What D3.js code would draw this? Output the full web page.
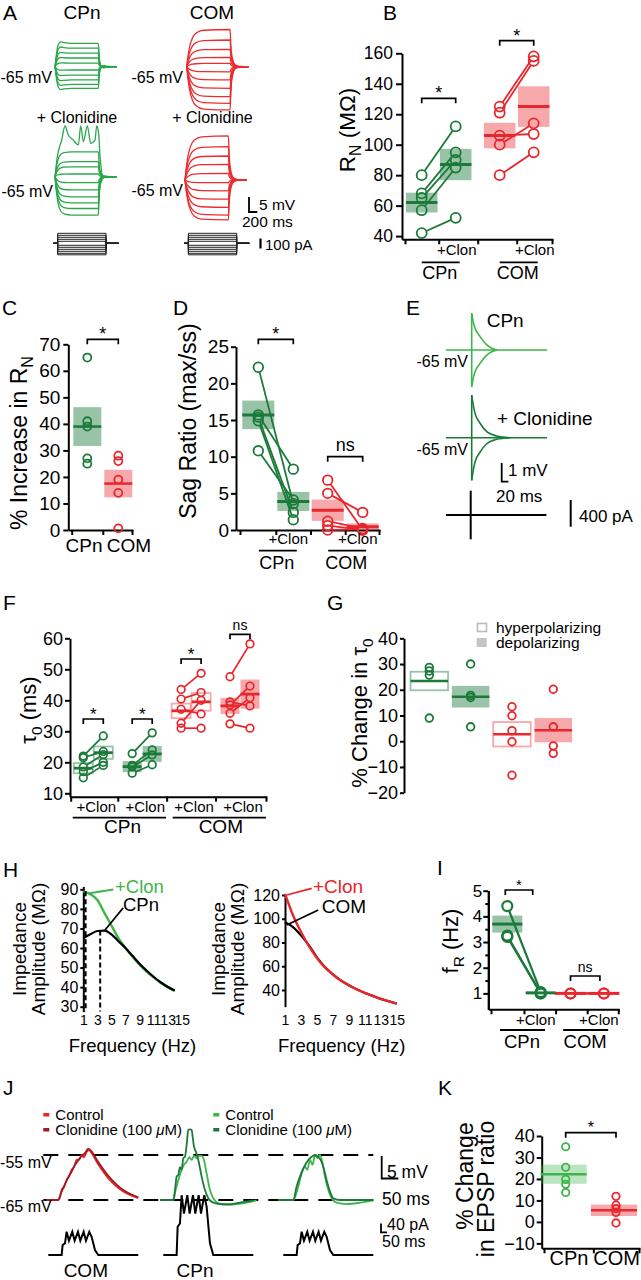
<!DOCTYPE html>
<html><head><meta charset="utf-8">
<script src="https://cdn.jsdelivr.net/npm/d3@7"></script>
<style>html,body{margin:0;padding:0;background:#fff;} svg{display:block;}</style>
</head><body>
<script>
// ================= DATA =================
// A: step responses (mV offsets from -65 mV), normalized step shapes, current steps (pA)
const A_stepT = [0, 40, 80, 140, 220, 400, 1040, 1060, 1100, 1160, 1250, 1480];
const A_shapeCPnCtrl = [0, .6, .95, 1.06, 1.03, 1, 1, .4, .05, -.05, -.01, 0];
const A_shapeCPnClon = [0, .45, .72, .9, .97, 1, 1, .5, .15, .03, .01, 0];
const A_shapeCOM = [0, .35, .58, .78, .9, .98, 1, .55, .2, .05, .01, 0];
const A_cpnCtrl = [7.8, 6.2, 4.5, 2.9, 1.2, -1.1, -2.8, -4.4, -5.9, -7.2];
const A_cpnClon = [8.3, 5, 3.3, 0.9, -2, -4.4, -6.7, -8.7, -10.6, -12.8];
const A_comCtrl = [12.4, 8.9, 5.8, 3.1, 1.1, -1.7, -4.4, -7.2, -10, -12.2, -14.4];
const A_comClon = [14.7, 11.1, 8, 5.2, 2.2, -0.9, -3.6, -6.4, -9.1, -11.7, -13.3];
const A_spikeT = [0, 56, 160, 240, 320, 440, 560, 616, 680, 776, 856, 960, 1000, 1048, 1080, 1160, 1480];
const A_spikeV = [0, 6.7, 12.2, 16.9, 13.9, 12.2, 10.6, 16.9, 11.7, 16.9, 11.1, 12.2, 16.9, 14.4, 6.7, 0, 0];
const A_stim = [100, 80, 60, 40, 20, -20, -40, -60, -80, -100, -115];

// B: input resistance (MOhm)
const B_groups = ["CPn", "COM"], B_conds = ["ctrl", "clon"];
const B_ticks = [40, 60, 80, 100, 120, 140, 160];
const B_cpn_ctrl = [80, 68, 65, 57, 42], B_cpn_clon = [112, 95, 90, 85, 52];
const B_com_ctrl = [125, 121, 106, 100, 80], B_com_clon = [158, 155, 107, 114, 95];
const B_mean = [62, 87, 106, 125], B_sem = [6.5, 10.3, 8.4, 13.3];

// C: % increase in RN
const C_cats = ["CPn", "COM"];
const C_ticks = [0, 10, 20, 30, 40, 50, 60, 70];
const C_cpn = [65, 41, 39, 27, 25], C_com = [28, 26, 19, 14, 0.6];
const C_mean = [39, 17.5], C_sem = [7.3, 5.2];

// D: sag ratio
const D_ticks = [0, 5, 10, 15, 20, 25];
const D_cpn_ctrl = [22.2, 15.7, 15.4, 14.9, 10.8], D_cpn_clon = [3.6, 8.3, 2.4, 1.4, 4.1];
const D_com_ctrl = [6.8, 5.0, 1.2, 0.6, 0], D_com_clon = [0, 2.4, 0.2, 0, 0.1];
const D_mean = [15.7, 3.9, 2.7, 0.45], D_sem = [1.95, 1.3, 1.45, 0.45];

// E: responses to brief current pulse (mV vs ms)
const E_cpnT = [0, 5, 10, 25, 45, 60, 75];
const E_cpnV = [2.02, 1.5, 1.19, 0.73, 0.28, 0.1, 0];
const E_clonT = [0, 5, 10, 25, 45, 75, 115];
const E_clonV = [2.33, 1.75, 1.33, 0.79, 0.33, 0.09, 0];
const E_pulse = [364, -364];

// F: tau0 (ms)
const F_groups = ["CPn-h", "CPn-d", "COM-h", "COM-d"];
const F_ticks = [10, 20, 30, 40, 50, 60];
const F_cpnH_ctrl = [22, 21.5, 18.5, 17, 15], F_cpnH_clon = [28.5, 23.5, 22.5, 20, 19];
const F_cpnD_ctrl = [22.8, 19, 18.5, 16.5], F_cpnD_clon = [29.5, 24, 22.4, 19.2];
const F_comH_ctrl = [43.5, 40.4, 37.1, 32.6, 31], F_comH_clon = [48.7, 42.5, 35.6, 40, 31];
const F_comD_ctrl = [47.6, 39.5, 38.5, 35.8, 32.4], F_comD_clon = [58.2, 38.2, 44.6, 40.8, 31];
const F_mean = [18.1, 23.1, 18.6, 22.7, 36.6, 39.5, 38.2, 42];
const F_sem = [1.65, 2.0, 1.8, 2.55, 2.35, 2.85, 2.6, 4.7];

// G: % change in tau0
const G_cats = ["CPn-h", "CPn-d", "COM-h", "COM-d"];
const G_ticks = [-20, -10, 0, 10, 20, 30, 40];
const G_cpnH = [28.7, 27.3, 25.7, 9], G_cpnD = [30, 17.8, 17, 5.6];
const G_comH = [13.4, 9.9, 4.1, -0.2, -13.2], G_comD = [20.2, 5.6, -1.8, -4.7];
const G_mean = [23.4, 17.3, 2.7, 4.3], G_sem = [3.6, 4.2, 4.75, 4.7];

// H: impedance amplitude (MOhm) vs frequency (Hz)
const H_freqL = [1, 2, 3, 4, 5, 6, 7, 8, 9, 10, 11, 12, 13, 14];
const H_cpnClon = [89, 87.5, 84.5, 78, 71.5, 65, 60, 55.5, 51.5, 48, 45, 42.3, 40, 38];
const H_cpnCtrl = [65, 67, 68.7, 68.9, 67, 63.5, 60, 56, 52, 48.5, 45.3, 42.5, 40.2, 38.3];
const H_freqR = [1, 2, 3, 4, 5, 6, 7, 8, 9, 10, 11, 12, 13, 14, 15];
const H_comClon = [121, 103, 89, 77, 67, 59, 53, 48, 44, 40.5, 37.5, 35, 32.5, 30.5, 28.5];
const H_comCtrl = [97, 93, 86, 77.5, 67.5, 59.3, 53.2, 48, 44, 40.5, 37.5, 35, 32.5, 30.5, 28.5];
const H_resCPn = [3.4, 1];
const H_ticksL = [30, 40, 50, 60, 70, 80, 90], H_ticksR = [40, 60, 80, 100, 120];
const H_xticks = [1, 3, 5, 7, 9, 11, 13, 15];

// I: resonance frequency (Hz)
const I_ticks = [1, 2, 3, 4, 5], I_minor = [1.5, 2.5, 3.5, 4.5];
const I_cpn_ctrl = [4.4, 3.25, 3.2], I_cpn_clon = [1.05, 1, 1];
const I_com_ctrl = [1, 1], I_com_clon = [1, 1];
const I_mean = [3.7, 1.02, 1, 1], I_sem = [0.33, 0.03, 0, 0];

// J: EPSP traces (mV above -65 vs ms) and current injections (pA)
const J_comCtrlT = [-35, 0, 5, 10, 18, 25, 32, 40, 47, 55, 63, 70, 77, 85, 92, 100, 115, 135, 155, 175, 195, 215, 240];
const J_comCtrl = [0, 0, 0.7, 2.2, 3, 4.4, 5.2, 6.7, 7.3, 8.9, 9, 10, 9.5, 10.7, 11.1, 10.4, 8.5, 6.3, 4.4, 3, 1.9, 1.1, 0.4];
const J_comClonT = [-35, 0, 8, 18, 28, 40, 50, 60, 70, 80, 90, 100, 115, 135, 155, 175, 195, 215, 240];
const J_comClon = [0, 0, 1.5, 3.2, 4.8, 6.3, 7.8, 8.8, 9.8, 10.4, 11.4, 10.8, 9, 6.8, 4.9, 3.4, 2.2, 1.4, 0.6];
const J_cpnClonT = [-40, 0, 5, 10, 15, 20, 25, 30, 35, 40, 45, 50, 55, 58, 62, 68, 75, 85, 95, 105, 120, 140, 170, 200, 240];
const J_cpnClon = [0, 0, 2.2, 5.2, 5.6, 7.3, 6.7, 9.3, 9.6, 12.2, 15.6, 15.7, 15.6, 14.1, 11.9, 10.7, 8.9, 5.2, 2.2, 0.4, -0.6, -0.9, -0.9, -0.6, -0.1];
const J_cpnCtrlT = [-40, 0, 7, 15, 25, 32, 40, 48, 55, 62, 70, 78, 85, 92, 100, 110, 120, 135, 160, 190, 220, 250];
const J_cpnCtrl = [0, 0, 2.2, 4.4, 6.7, 7.8, 8.5, 9.5, 8.9, 9.8, 9.3, 9.8, 9.8, 8.9, 5.9, 2.2, 0.4, -0.7, -1.1, -0.9, -0.6, -0.1];
const J_cpn2ClonT = [-45, 0, 10, 20, 30, 38, 45, 55, 65, 75, 82, 90, 100, 110, 120, 140, 240];
const J_cpn2Clon = [0, 0, 3, 5.2, 7, 8.1, 8.9, 9.6, 10, 9.6, 8.9, 7.4, 4.4, 1.9, 0.4, 0, 0];
const J_cpn2CtrlT = [-45, 0, 15, 25, 35, 42, 50, 58, 65, 72, 80, 88, 95, 105, 115, 130, 160, 200, 240];
const J_cpn2Ctrl = [0, 0, 3, 5.9, 7.4, 6.7, 8.9, 7.8, 10, 9.3, 10, 8.1, 5.2, 2.2, 0.4, -0.6, -0.9, -0.6, -0.1];
const J_stimT = [-30, 10, 13, 20, 25, 32, 42, 49, 59, 66, 76, 83, 93, 100, 110, 120, 240];
const J_stimSmall = [0, 0, 48, 56, 112, 69, 112, 69, 112, 69, 112, 69, 112, 88, 24, 0, 0];
const J_stimLarge = [0, 0, 136, 152, 288, 200, 288, 200, 288, 200, 288, 200, 288, 232, 56, 0, 0];

// K: % change in EPSP ratio
const K_cats = ["CPn", "COM"];
const K_ticks = [-10, 0, 10, 20, 30, 40];
const K_cpn = [35, 25.4, 19.8, 17.5, 13.7], K_com = [11.9, 7.8, 6.2, 4.4, -0.5];
const K_mean = [22.2, 5.4], K_sem = [4.45, 2.65];

// ================= DRAWING =================
const W = 641, H = 1280;
const FONT = "'Liberation Sans', Arial, Helvetica, sans-serif";
const DG = "#1b7a3a", LG = "#3db54a", RD = "#e8262c", DR = "#9e1b20", AG = "#29a84a", AR = "#ee2c2f";
const svg = d3.select("body").append("svg").attr("width", W).attr("height", H);
svg.append("rect").attr("width", W).attr("height", H).attr("fill", "#fff");

function rich(g, x, y, parts, size, o = {}) {
  const t = g.append("text").attr("x", x).attr("y", y).attr("font-family", FONT)
    .attr("font-size", size).attr("fill", o.fill || "#000").attr("text-anchor", o.anchor || "start");
  if (o.rot !== undefined) t.attr("transform", `rotate(${o.rot},${x},${y})`);
  let shift = 0;
  (typeof parts === "string" ? [{ t: parts }] : parts).forEach(p => {
    const ts = t.append("tspan").text(p.t);
    const target = p.sub ? size * 0.28 : 0;
    if (target !== shift) { ts.attr("dy", target - shift); shift = target; }
    if (p.sub) ts.attr("font-size", size * 0.7);
    if (p.it) ts.attr("font-style", "italic");
  });
  return t;
}
function yAxis(g, x, scale, ticks, fs, o = {}) {
  const ax = d3.axisLeft(scale).tickValues(ticks).tickSize(o.ts || 5).tickPadding(o.pad === undefined ? 2 : o.pad)
    .tickSizeOuter(0).tickFormat(d3.format("d"));
  const a = g.append("g").attr("transform", `translate(${x},0)`).call(ax);
  a.select(".domain").attr("stroke", "#000").attr("stroke-width", o.sw || 2);
  a.selectAll(".tick line").attr("stroke", "#000").attr("stroke-width", o.sw || 2);
  a.selectAll(".tick text").attr("font-size", fs).attr("font-family", FONT).attr("fill", "#000");
  if (o.noLabels) a.selectAll(".tick text").remove();
  if (o.noDomain) a.select(".domain").remove();
  return a;
}
function xTicks(g, y, x0, x1, ticks, o = {}) {
  const ax = d3.axisBottom(d3.scaleIdentity().domain([x0, x1])).tickValues(ticks).tickSize(o.ts || 5).tickFormat("").tickSizeOuter(0);
  const a = g.append("g").attr("transform", `translate(0,${y})`).call(ax);
  a.select(".domain").attr("stroke", "#000").attr("stroke-width", 2);
  a.selectAll(".tick line").attr("stroke", "#000").attr("stroke-width", 2);
}
function hline(g, x1, x2, y, sw = 1.8, col = "#000") {
  g.append("line").attr("x1", x1).attr("x2", x2).attr("y1", y).attr("y2", y).attr("stroke", col).attr("stroke-width", sw);
}
function line(g, x1, y1, x2, y2, sw = 1.8, col = "#000", dash) {
  const l = g.append("line").attr("x1", x1).attr("y1", y1).attr("x2", x2).attr("y2", y2).attr("stroke", col).attr("stroke-width", sw);
  if (dash) l.attr("stroke-dasharray", dash);
  return l;
}
function box(g, cx, w, y1, y2, color, filled, op) {
  const r = g.append("rect").attr("x", cx - w / 2).attr("y", Math.min(y1, y2)).attr("width", w).attr("height", Math.max(0.5, Math.abs(y2 - y1)));
  if (filled) r.attr("fill", color).attr("fill-opacity", op).attr("stroke", "none");
  else r.attr("fill", "#fff").attr("stroke", color).attr("stroke-opacity", op).attr("stroke-width", 1.8);
}
function circ(g, x, y, r, color, sw) {
  g.append("circle").attr("cx", x).attr("cy", y).attr("r", r).attr("fill", "none").attr("stroke", color).attr("stroke-width", sw);
}
function seg(g, x1, y1, x2, y2, r, color, w) {
  const dx = x2 - x1, dy = y2 - y1, L = Math.hypot(dx, dy);
  if (L < 2 * r) return;
  const ux = dx / L, uy = dy / L;
  line(g, x1 + ux * r, y1 + uy * r, x2 - ux * r, y2 - uy * r, w, color);
}
function bracket(g, x1, x2, y, label, fs, dyTxt = 0, leg = 5) {
  g.append("path").attr("d", `M${x1},${y + leg}V${y}H${x2}V${y + leg}`).attr("fill", "none").attr("stroke", "#000").attr("stroke-width", 1.7);
  rich(g, (x1 + x2) / 2, y + dyTxt, label, fs, { anchor: "middle" });
}
function pairGroup(g, xa, xb, y, ctrl, clon, mean, sem, color, bw, r, o = {}) {
  const filled = o.filled || [true, true];
  const op = o.op || 0.45;
  [[xa, 0], [xb, 1]].forEach(([x, i]) => box(g, x, bw, y(mean[i] - sem[i]), y(mean[i] + sem[i]), color, filled[i], op));
  ctrl.forEach((v, i) => seg(g, xa, y(v), xb, y(clon[i]), r, color, o.lw || 1.8));
  ctrl.forEach(v => circ(g, xa, y(v), r, color, o.cw || 1.8));
  clon.forEach(v => circ(g, xb, y(v), r, color, o.cw || 1.8));
  [[xa, 0], [xb, 1]].forEach(([x, i]) => hline(g, x - bw / 2, x + bw / 2, y(mean[i]), o.mw || 3, color));
}

// ---------- Panel A ----------
{
  const g = svg.append("g");
  rich(g, 3, 20, "A", 21);
  rich(g, 82, 19, "CPn", 19, { anchor: "middle" });
  rich(g, 212, 19, "COM", 19, { anchor: "middle" });
  function traces(x0, base, amps, shape, color) {
    const xs = d3.scaleLinear().domain([0, 1000]).range([x0, x0 + 41.7]);
    const ys = d3.scaleLinear().domain([0, 5]).range([base, base - 15]);
    const ln = d3.line().x(d => xs(d[0])).y(d => ys(d[1])).curve(d3.curveMonotoneX);
    amps.forEach(a => g.append("path").attr("d", ln(A_stepT.map((t, i) => [t, a * shape[i]])))
      .attr("fill", "none").attr("stroke", color).attr("stroke-width", 1.3));
    return { xs, ys };
  }
  traces(55, 66.7, A_cpnCtrl, A_shapeCPnCtrl, AG);
  const s = traces(55, 176.7, A_cpnClon, A_shapeCPnClon, AG);
  g.append("path").attr("d", d3.line().x((d, i) => s.xs(A_spikeT[i])).y(d => s.ys(d)).curve(d3.curveMonotoneX)(A_spikeV))
    .attr("fill", "none").attr("stroke", AG).attr("stroke-width", 1.3);
  traces(186.7, 66.7, A_comCtrl, A_shapeCOM, AR);
  traces(185, 180, A_comClon, A_shapeCOM, AR);
  function stim(x0, yb) {
    const xs = d3.scaleLinear().domain([0, 1000]).range([x0, x0 + 41.7]);
    const ys = d3.scaleLinear().domain([0, 100]).range([yb, yb - 10]);
    const ln = d3.line().x(d => xs(d[0])).y(d => ys(d[1]));
    A_stim.forEach(a => g.append("path").attr("d", ln([[-60, 0], [40, 0], [40, a], [1200, a], [1200, 0], [1500, 0]]))
      .attr("fill", "none").attr("stroke", "#222").attr("stroke-width", 1));
  }
  stim(56, 243.3);
  stim(186.7, 243.3);
  rich(g, 52, 82.7, "-65 mV", 16, { anchor: "end" });
  rich(g, 53, 196.7, "-65 mV", 16, { anchor: "end" });
  rich(g, 183, 82.7, "-65 mV", 16, { anchor: "end" });
  rich(g, 183, 196, "-65 mV", 16, { anchor: "end" });
  rich(g, 77, 123, "+ Clonidine", 16, { anchor: "middle" });
  rich(g, 212.5, 123, "+ Clonidine", 16, { anchor: "middle" });
  g.append("path").attr("d", "M249,197V212H257.3").attr("fill", "none").attr("stroke", "#000").attr("stroke-width", 1.8);
  rich(g, 259, 210, "5 mV", 15.5);
  rich(g, 242, 227, "200 ms", 15.5);
  line(g, 260.5, 238.5, 260.5, 248.5, 2.2);
  rich(g, 265, 250, "100 pA", 15);
}

// ---------- Panel B ----------
{
  const g = svg.append("g");
  rich(g, 383, 20, "B", 21);
  const y = d3.scaleLinear().domain([37.9, 160]).range([239.3, 53.3]);
  const xg = d3.scalePoint().domain(B_groups).range([438.7, 516.7]);
  const xc = d3.scalePoint().domain(B_conds).range([-17, 17]);
  yAxis(g, 402, y, B_ticks, 17.5, { pad: 3, ts: 6 });
  xTicks(g, 239.3, 402, 553, [405, xg("CPn"), (xg("CPn") + xg("COM")) / 2, xg("COM"), 552]);
  pairGroup(g, xg("CPn") + xc("ctrl"), xg("CPn") + xc("clon"), y, B_cpn_ctrl, B_cpn_clon, B_mean.slice(0, 2), B_sem.slice(0, 2), DG, 31.5, 5);
  pairGroup(g, xg("COM") + xc("ctrl"), xg("COM") + xc("clon"), y, B_com_ctrl, B_com_clon, B_mean.slice(2), B_sem.slice(2), RD, 31.5, 5, { op: 0.4 });
  rich(g, 355, 130, [{ t: "R" }, { t: "N", sub: true }, { t: " (MΩ)" }], 22.5, { rot: -90, anchor: "middle" });
  B_groups.forEach(gr => {
    rich(g, xg(gr) + xc("clon") + 1, 255, "+Clon", 15, { anchor: "middle" });
    hline(g, xg(gr) - 17, xg(gr) + 21, 262.3, 1.8);
    rich(g, xg(gr) + 1, 279, gr, 18, { anchor: "middle" });
  });
  bracket(g, xg("CPn") + xc("ctrl"), xg("CPn") + xc("clon"), 98.3, "*", 18, 1);
  bracket(g, xg("COM") + xc("ctrl"), xg("COM") + xc("clon"), 40.7, "*", 18, 1);
}

// ---------- Panel C ----------
{
  const g = svg.append("g");
  rich(g, 2, 315, "C", 21);
  const y = d3.scaleLinear().domain([0, 70]).range([530, 344.3]);
  const x = d3.scalePoint().domain(C_cats).range([87.3, 118.3]);
  yAxis(g, 68.3, y, C_ticks, 19, { pad: 3 });
  xTicks(g, 530, 68.3, 133, [71.7, (x("CPn") + x("COM")) / 2, 132]);
  [[C_cpn, DG, 0.45], [C_com, RD, 0.4]].forEach(([vals, col, op], i) => {
    const cx = x(C_cats[i]);
    box(g, cx, 28, y(C_mean[i] - C_sem[i]), y(C_mean[i] + C_sem[i]), col, true, op);
    vals.forEach(v => circ(g, cx, y(v), 4, col, 1.8));
    hline(g, cx - 14, cx + 14, y(C_mean[i]), 2.5, col);
  });
  rich(g, 84, 551.7, "CPn", 19, { anchor: "middle" });
  rich(g, 129, 551.7, "COM", 19, { anchor: "middle" });
  rich(g, 27, 443, [{ t: "% Increase in R" }, { t: "N", sub: true }], 23, { rot: -90, anchor: "middle" });
  bracket(g, x("CPn"), x("COM"), 339.3, "*", 18, 1);
}

// ---------- Panel D ----------
{
  const g = svg.append("g");
  rich(g, 173, 315, "D", 21);
  const y = d3.scaleLinear().domain([0, 25]).range([530, 346.7]);
  const xg = d3.scalePoint().domain(B_groups).range([275.8, 345.2]);
  const xc = d3.scalePoint().domain(B_conds).range([-17.5, 17.5]);
  yAxis(g, 236, y, D_ticks, 19, { pad: 2 });
  xTicks(g, 530, 236, 380, [240, xg("CPn"), (xg("CPn") + xg("COM")) / 2, xg("COM"), 379]);
  pairGroup(g, xg("CPn") + xc("ctrl"), xg("CPn") + xc("clon"), y, D_cpn_ctrl, D_cpn_clon, D_mean.slice(0, 2), D_sem.slice(0, 2), DG, 32, 4.8);
  pairGroup(g, xg("COM") + xc("ctrl"), xg("COM") + xc("clon"), y, D_com_ctrl, D_com_clon, D_mean.slice(2), D_sem.slice(2), RD, 32, 4.8, { op: 0.4 });
  rich(g, 196, 421, "Sag Ratio (max/ss)", 23, { rot: -90, anchor: "middle" });
  B_groups.forEach(gr => {
    rich(g, xg(gr) + xc("clon") - 5, 544.3, "+Clon", 15, { anchor: "middle" });
    hline(g, xg(gr) - 17, xg(gr) + 21, 550.7, 1.8);
    rich(g, xg(gr) + 1, 569, gr, 18, { anchor: "middle" });
  });
  bracket(g, xg("CPn") + xc("ctrl"), xg("CPn") + xc("clon"), 339.3, "*", 18, 1);
  bracket(g, xg("COM") + xc("ctrl"), xg("COM") + xc("clon"), 456.7, "ns", 18, -6);
}

// ---------- Panel E ----------
{
  const g = svg.append("g");
  rich(g, 406, 315, "E", 21);
  function resp(base, T, V, color) {
    const xs = d3.scaleLinear().domain([0, 20]).range([471.7, 478.4]);
    const ys = d3.scaleLinear().domain([0, 1]).range([base, base - 18.3]);
    const ln = d3.line().x((d, i) => xs(T[i])).y(d => ys(d)).curve(d3.curveMonotoneX);
    const st = p => p.attr("fill", "none").attr("stroke", color).attr("stroke-width", 1.6);
    st(g.append("path").attr("d", `M${xs(-77)},${base}H${xs(225)}`));
    st(g.append("path").attr("d", `M${xs(0)},${ys(V[0])}V${ys(-V[0])}`));
    st(g.append("path").attr("d", ln(V)));
    st(g.append("path").attr("d", ln(V.map(v => -v))));
  }
  resp(350, E_cpnT, E_cpnV, LG);
  resp(437.7, E_clonT, E_clonV, DG);
  {
    const xs = d3.scaleLinear().domain([0, 20]).range([470.7, 477.4]);
    const ys = d3.scaleLinear().domain([0, 400]).range([515, 488.3]);
    line(g, xs(-74), 515, xs(226), 515, 2);
    line(g, xs(0), ys(E_pulse[0]), xs(0), ys(E_pulse[1]), 2);
  }
  rich(g, 486.7, 326.7, "CPn", 19);
  rich(g, 468, 366.7, "-65 mV", 16, { anchor: "end" });
  rich(g, 468, 455, "-65 mV", 16, { anchor: "end" });
  rich(g, 497, 425, "+ Clonidine", 19);
  g.append("path").attr("d", "M501.7,463V481.7H508.4").attr("fill", "none").attr("stroke", "#000").attr("stroke-width", 1.8);
  rich(g, 508, 476, "1 mV", 17);
  rich(g, 496, 501.7, "20 ms", 17);
  line(g, 570.7, 500, 570.7, 526.7, 2);
  rich(g, 579, 521.7, "400 pA", 17);
}

// ---------- Panel F ----------
{
  const g = svg.append("g");
  rich(g, 3, 610, "F", 21);
  const y = d3.scaleLinear().domain([8.9, 60]).range([796.7, 638.3]);
  const xg = d3.scalePoint().domain(F_groups).range([93.3, 240]);
  const xc = d3.scalePoint().domain(B_conds).range([-10, 10]);
  yAxis(g, 70, y, F_ticks, 18, { pad: 2 });
  const gx = F_groups.map(f => xg(f));
  xTicks(g, 796.7, 70, 266.7, [70.7, (gx[0] + gx[1]) / 2, (gx[1] + gx[2]) / 2, (gx[2] + gx[3]) / 2, 266]);
  const sets = [[F_cpnH_ctrl, F_cpnH_clon, DG, false, 0.45], [F_cpnD_ctrl, F_cpnD_clon, DG, true, 0.45],
                [F_comH_ctrl, F_comH_clon, RD, false, 0.4], [F_comD_ctrl, F_comD_clon, RD, true, 0.4]];
  sets.forEach(([c, k, col, fill, op], i) => {
    const gr = F_groups[i];
    pairGroup(g, xg(gr) + xc("ctrl"), xg(gr) + xc("clon"), y, c, k, F_mean.slice(2 * i, 2 * i + 2), F_sem.slice(2 * i, 2 * i + 2), col, 19, 3.8,
      { filled: [fill, fill], op: op, mw: 2.8, lw: 1.7, cw: 1.7 });
    rich(g, xg(gr) + xc("clon") - 7, 811.7, "+Clon", 15, { anchor: "middle" });
  });
  hline(g, 72.7, 166, 817.7, 1.8);
  hline(g, 172.7, 266, 817.7, 1.8);
  rich(g, 122.5, 833, "CPn", 19, { anchor: "middle" });
  rich(g, 220.8, 833, "COM", 19, { anchor: "middle" });
  rich(g, 36, 710, [{ t: "τ" }, { t: "0", sub: true }, { t: " (ms)" }], 22, { rot: -90, anchor: "middle" });
  const bY = [719, 719, 659, 634.3], bL = ["*", "*", "*", "ns"];
  F_groups.forEach((gr, i) => bracket(g, xg(gr) + xc("ctrl"), xg(gr) + xc("clon"), bY[i], bL[i], bL[i] === "ns" ? 14 : 17, bL[i] === "ns" ? -4 : 1));
}

// ---------- Panel G ----------
{
  const g = svg.append("g");
  rich(g, 327, 610, "G", 21);
  const y = d3.scaleLinear().domain([-20, 40]).range([792.7, 638.3]);
  const x = d3.scalePoint().domain(G_cats).range([429.3, 553.3]);
  yAxis(g, 404, y, G_ticks, 18, { pad: 2, ts: 4 });
  const sets = [[G_cpnH, DG, false, 0.45], [G_cpnD, DG, true, 0.45], [G_comH, RD, false, 0.4], [G_comD, RD, true, 0.4]];
  sets.forEach(([vals, col, fill, op], i) => {
    const cx = x(G_cats[i]);
    box(g, cx, 37.5, y(G_mean[i] - G_sem[i]), y(G_mean[i] + G_sem[i]), col, fill, op);
    vals.forEach(v => circ(g, cx, y(v), 3.8, col, 1.8));
    hline(g, cx - 18.75, cx + 18.75, y(G_mean[i]), 2.5, col);
  });
  rich(g, 367, 713, [{ t: "% Change in τ" }, { t: "0", sub: true }], 22, { rot: -90, anchor: "middle" });
  g.append("rect").attr("x", 477.5).attr("y", 623.5).attr("width", 9).attr("height", 8).attr("fill", "#fff").attr("stroke", "#bbb").attr("stroke-width", 1.6);
  g.append("rect").attr("x", 476.7).attr("y", 638).attr("width", 10).attr("height", 9).attr("fill", "#c4c4c4");
  rich(g, 496, 633.3, "hyperpolarizing", 15.5);
  rich(g, 496, 648.3, "depolarizing", 15.5);
}

// ---------- Panel H ----------
{
  const g = svg.append("g");
  rich(g, 3, 877, "H", 21);
  // left
  const yL = d3.scaleLinear().domain([27.5, 91.5]).range([1011.6, 886.4]);
  const xL = d3.scaleLinear().domain([1, 15]).range([83.3, 181.7]);
  yAxis(g, 83.3, yL, H_ticksL, 16, { ts: 3, pad: 2 });
  const axL = g.append("g").attr("transform", "translate(0,1012)").call(d3.axisBottom(xL).tickValues(H_xticks).tickSize(0).tickPadding(3));
  axL.select(".domain").remove();
  axL.selectAll("text").attr("font-size", 14).attr("font-family", FONT).attr("fill", "#000");
  const lnL = d3.line().x((d, i) => xL(H_freqL[i])).y(d => yL(d)).curve(d3.curveMonotoneX);
  g.append("path").attr("d", lnL(H_cpnClon)).attr("fill", "none").attr("stroke", LG).attr("stroke-width", 2.4);
  g.append("path").attr("d", lnL(H_cpnCtrl)).attr("fill", "none").attr("stroke", "#000").attr("stroke-width", 2.2);
  line(g, xL(H_resCPn[0]), yL(68.9), xL(H_resCPn[0]), 1011.6, 2, "#000", "5,3");
  line(g, xL(H_resCPn[1]) + 2.2, yL(89), xL(H_resCPn[1]) + 2.2, 1011.6, 2.2, "#000", "5,3");
  line(g, 88, 893.5, 113.3, 889.5, 1.8, LG);
  rich(g, 115, 892.5, "+Clon", 18.5, { fill: LG });
  line(g, 105, 930, 123.3, 907.7, 1.8);
  rich(g, 123, 911, "CPn", 18.5);
  rich(g, 26, 949, "Impedance", 19, { rot: -90, anchor: "middle" });
  rich(g, 45, 949, "Amplitude (MΩ)", 19, { rot: -90, anchor: "middle" });
  rich(g, 132.5, 1051.7, "Frequency (Hz)", 18.5, { anchor: "middle" });
  // right
  const yR = d3.scaleLinear().domain([25.9, 120]).range([1006.7, 895]);
  const xR = d3.scaleLinear().domain([1, 15]).range([285, 396.7]);
  yAxis(g, 285, yR, H_ticksR, 16, { ts: 3, pad: 2 });
  const axR = g.append("g").attr("transform", "translate(0,1012)").call(d3.axisBottom(xR).tickValues(H_xticks).tickSize(0).tickPadding(3));
  axR.select(".domain").remove();
  axR.selectAll("text").attr("font-size", 14).attr("font-family", FONT).attr("fill", "#000");
  const lnR = d3.line().x((d, i) => xR(H_freqR[i])).y(d => yR(d)).curve(d3.curveMonotoneX);
  g.append("path").attr("d", lnR(H_comCtrl)).attr("fill", "none").attr("stroke", "#000").attr("stroke-width", 2.2);
  g.append("path").attr("d", lnR(H_comClon)).attr("fill", "none").attr("stroke", RD).attr("stroke-width", 2.4);
  line(g, 286.7, 895, 311.7, 888.3, 1.8, RD);
  rich(g, 313, 893.3, "+Clon", 19, { fill: RD });
  line(g, 286.7, 925, 318.3, 910, 1.8);
  rich(g, 321.7, 913.3, "COM", 19);
  rich(g, 225, 949, "Impedance", 19, { rot: -90, anchor: "middle" });
  rich(g, 244, 949, "Amplitude (MΩ)", 19, { rot: -90, anchor: "middle" });
  rich(g, 341.7, 1051.7, "Frequency (Hz)", 18.5, { anchor: "middle" });
}

// ---------- Panel I ----------
{
  const g = svg.append("g");
  rich(g, 437, 875, "I", 21);
  const y = d3.scaleLinear().domain([0.38, 5]).range([1009.3, 890.7]);
  const xg = d3.scalePoint().domain(B_groups).range([524, 587.2]);
  const xc = d3.scalePoint().domain(B_conds).range([-16.7, 16.7]);
  yAxis(g, 488.3, y, I_minor, 10, { ts: 3, noLabels: true });
  yAxis(g, 488.3, y, I_ticks, 17, { ts: 5, pad: 1 });
  xTicks(g, 1009.3, 488.3, 619.3, [491, xg("CPn"), (xg("CPn") + xg("COM")) / 2, xg("COM"), 618.3]);
  pairGroup(g, xg("CPn") + xc("ctrl"), xg("CPn") + xc("clon"), y, I_cpn_ctrl, I_cpn_clon, I_mean.slice(0, 2), I_sem.slice(0, 2), DG, 30, 5, { cw: 2.2, lw: 2.2, mw: 3 });
  pairGroup(g, xg("COM") + xc("ctrl"), xg("COM") + xc("clon"), y, I_com_ctrl, I_com_clon, I_mean.slice(2), I_sem.slice(2), RD, 31, 5, { op: 0.4, cw: 2, lw: 2, mw: 3 });
  rich(g, 458, 941, [{ t: "f" }, { t: "R", sub: true }, { t: " (Hz)" }], 22, { rot: -90, anchor: "middle" });
  B_groups.forEach(gr => {
    rich(g, xg(gr) + xc("clon") - 5, 1025, "+Clon", 15, { anchor: "middle" });
    hline(g, xg(gr) - 24, xg(gr) + 21, 1030, 1.8);
    rich(g, xg(gr) - 2, 1048.3, gr, 18.5, { anchor: "middle" });
  });
  bracket(g, xg("CPn") + xc("ctrl") - 2, xg("CPn") + xc("clon") - 8, 890, "*", 15, 0);
  bracket(g, xg("COM") + xc("ctrl"), xg("COM") + xc("clon") - 4, 976, "ns", 14, -4);
}

// ---------- Panel J ----------
{
  const g = svg.append("g");
  rich(g, 3, 1095, "J", 21);
  const yv = d3.scaleLinear().domain([-65, -55]).range([1200, 1155]);
  const yi = d3.scaleLinear().domain([0, 40]).range([1255, 1246.7]);
  line(g, 43.3, yv(-55), 373.3, yv(-55), 1.8, "#000", "15,10");
  line(g, 43.3, yv(-65), 373.3, yv(-65), 1.8, "#000", "15,10");
  function tr(x0, T, V, color, sw) {
    const xs = d3.scaleLinear().domain([0, 150]).range([x0, x0 + 50]);
    g.append("path").attr("d", d3.line().x((d, i) => xs(T[i])).y(d => yv(-65 + d)).curve(d3.curveMonotoneX)(V))
      .attr("fill", "none").attr("stroke", color).attr("stroke-width", sw);
  }
  function st(x0, V) {
    const xs = d3.scaleLinear().domain([0, 150]).range([x0, x0 + 50]);
    g.append("path").attr("d", d3.line().x((d, i) => xs(J_stimT[i])).y(d => yi(d))(V))
      .attr("fill", "none").attr("stroke", "#000").attr("stroke-width", 2);
  }
  tr(58.3, J_comCtrlT, J_comCtrl, RD, 1.8);
  tr(58.3, J_comClonT, J_comClon, DR, 1.8);
  tr(173.3, J_cpnCtrlT, J_cpnCtrl, LG, 1.8);
  tr(173.3, J_cpnClonT, J_cpnClon, DG, 1.8);
  tr(293.3, J_cpn2CtrlT, J_cpn2Ctrl, LG, 1.8);
  tr(293.3, J_cpn2ClonT, J_cpn2Clon, DG, 1.8);
  st(58.3, J_stimSmall);
  st(173.3, J_stimLarge);
  st(293.3, J_stimSmall);
  // legend
  [[43.3, RD, "Control", 1120], [43.3, DR, "Clonidine (100 ", 1135], [213.3, LG, "Control", 1120], [213.3, DG, "Clonidine (100 ", 1135]].forEach(([x, col, lab, yb]) => {
    g.append("rect").attr("x", x).attr("y", yb - 7).attr("width", 6).attr("height", 3.5).attr("fill", col);
    if (lab === "Control") rich(g, x + 12, yb, lab, 15);
    else rich(g, x + 12, yb, [{ t: lab }, { t: "μ", it: true }, { t: "M)" }], 15);
  });
  rich(g, 51.7, 1168.3, "-55 mV", 16, { anchor: "end" });
  rich(g, 51.7, 1211.7, "-65 mV", 16, { anchor: "end" });
  g.append("path").attr("d", "M381.7,1156V1178.5H398.4").attr("fill", "none").attr("stroke", "#000").attr("stroke-width", 1.8);
  rich(g, 387, 1178, "5 mV", 17.5);
  rich(g, 382, 1205, "50 ms", 17.5);
  g.append("path").attr("d", "M381,1223.5V1232.3H387").attr("fill", "none").attr("stroke", "#000").attr("stroke-width", 1.8);
  rich(g, 387, 1230, "40 pA", 16);
  rich(g, 382, 1247, "50 ms", 16);
  rich(g, 85.8, 1276.5, "COM", 19, { anchor: "middle" });
  rich(g, 195, 1276.5, "CPn", 19, { anchor: "middle" });
}

// ---------- Panel K ----------
{
  const g = svg.append("g");
  rich(g, 438, 1095, "K", 21);
  const y = d3.scaleLinear().domain([-12.3, 40]).range([1248.3, 1136]);
  const x = d3.scalePoint().domain(K_cats).range([565.7, 616]);
  yAxis(g, 541.7, y, K_ticks, 18, { pad: 2 });
  xTicks(g, 1248.3, 541.7, 640, [544, (x("CPn") + x("COM")) / 2 + 2.5, 639]);
  [[K_cpn, LG, 0.35], [K_com, RD, 0.4]].forEach(([vals, col, op], i) => {
    const cx = x(K_cats[i]);
    box(g, cx - 2, 46, y(K_mean[i] - K_sem[i]), y(K_mean[i] + K_sem[i]), col, true, op);
    vals.forEach(v => circ(g, cx, y(v), 3.7, col, 1.8));
    hline(g, cx - 25, cx + 21, y(K_mean[i]), 2.5, col);
  });
  rich(g, 569, 1265, "CPn", 20, { anchor: "middle" });
  rich(g, 616.7, 1265, "COM", 20, { anchor: "middle" });
  rich(g, 473, 1176, "% Change", 23, { rot: -90, anchor: "middle" });
  rich(g, 494, 1189, "in EPSP ratio", 23, { rot: -90, anchor: "middle" });
  bracket(g, x("CPn"), x("COM"), 1132.7, "*", 16, 0);
}
</script>
</body></html>
